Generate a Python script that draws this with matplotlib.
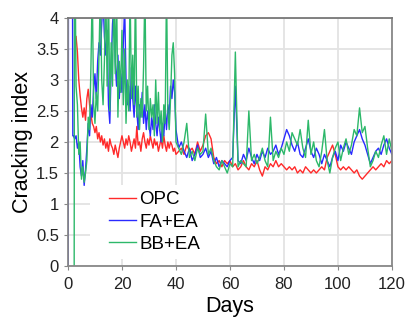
import numpy as np
import matplotlib
matplotlib.use('Agg')
import matplotlib.pyplot as plt
from matplotlib.patches import Rectangle

plt.rcParams['font.family'] = ['Liberation Sans', 'DejaVu Sans']

# dias: passo de meio dia ate o dia 40, depois passo de 1 dia
dias_ini = np.arange(3.0, 40.5, 0.5)
dias_fim = np.arange(41, 121, 1)

# OPC
opc_ini = [3.7, 3.45, 3.0, 2.75, 2.55, 2.4, 2.55, 2.35, 2.7, 2.85,
           2.6, 2.45, 2.3, 2.25, 2.15, 2.25, 2.05, 2.15, 2.0, 2.1,
           1.95, 2.05, 1.9, 2.0, 1.85, 2.05, 1.95, 1.9, 1.8, 1.95,
           1.85, 1.75, 1.9, 2.0, 2.1, 2.0, 1.9, 2.05, 1.95, 2.1,
           2.0, 1.85, 1.95, 2.05, 1.9, 2.25, 1.95, 2.0, 1.85, 2.05,
           2.15, 2.0, 1.9, 2.05, 1.95, 2.1, 2.0, 1.9, 2.05, 1.95,
           2.0, 1.85, 1.95, 2.05, 1.9, 2.1, 1.95, 1.85, 2.0, 1.9,
           2.0, 1.95, 1.85, 1.9, 1.8]
opc_fim = [1.85, 1.9, 1.8, 1.95, 1.85, 1.9, 1.8, 2.0, 1.85, 1.95,
           2.1, 2.15, 2.05, 1.75, 1.65, 1.7, 1.6, 1.7, 1.65, 1.7,
           1.6, 1.65, 1.55, 1.6, 1.7, 1.6, 1.55, 1.65, 1.6, 1.7,
           1.55, 1.45, 1.6, 1.55, 1.65, 1.6, 1.7, 1.6, 1.65, 1.6,
           1.55, 1.6, 1.55, 1.6, 1.5, 1.55, 1.5, 1.6, 1.55, 1.5,
           1.55, 1.5, 1.55, 1.6, 1.55, 1.75, 1.85, 1.95, 1.8, 1.6,
           1.55, 1.6, 1.55, 1.6, 1.55, 1.5, 1.55, 1.45, 1.4, 1.45,
           1.5, 1.55, 1.6, 1.55, 1.6, 1.65, 1.6, 1.7, 1.65, 1.7]

# FA+EA (inicio sobe acima de 4 e volta)
fa_pre_x = [0.1, 0.2, 1.6, 1.8, 2.0, 2.5]
fa_pre_y = [0.0, 6.0, 6.0, 2.1, 2.1, 2.05]
fa_ini = [2.1, 1.9, 2.0, 1.6, 1.45, 1.7, 1.3, 1.55, 1.9, 2.3,
          2.1, 2.6, 2.4, 2.85, 3.1, 2.7, 3.3, 3.6, 3.4, 3.9,
          4.3, 3.7, 3.4, 3.8, 2.6, 2.3, 3.2, 3.9, 4.2, 3.3,
          2.9, 3.4, 2.7, 3.1, 2.8, 3.6, 4.2, 3.0, 2.6, 2.9,
          2.5, 3.2, 2.7, 2.4, 2.9, 2.5, 2.2, 2.6, 2.4, 2.8,
          2.3, 2.6, 2.2, 2.5, 2.3, 2.1, 2.4, 2.2, 2.6, 2.3,
          2.1, 2.4, 2.2, 2.0, 2.3, 2.1, 2.5, 2.2, 2.6, 2.4,
          2.9, 2.7, 3.0, 2.8, 2.2]
fa_fim = [1.9, 2.0, 1.85, 1.75, 1.9, 1.7, 1.8, 1.95, 1.75, 1.8,
          1.9, 1.75, 1.85, 1.65, 1.75, 1.6, 1.7, 1.65, 1.6, 1.7,
          1.75, 2.9, 1.7, 1.65, 1.8, 1.7, 1.9, 1.75, 1.65, 1.8,
          1.7, 1.85, 1.75, 1.9, 1.8, 1.85, 1.95, 1.8, 1.9, 2.05,
          2.2, 2.1, 1.95, 1.85, 2.0, 1.8, 1.75, 1.9, 2.05, 1.85,
          1.75, 1.9, 1.8, 1.65, 1.8, 1.7, 1.6, 1.75, 1.85, 1.7,
          1.95, 1.85, 2.0, 1.9, 1.8, 2.0, 2.1, 2.2, 2.05, 1.95,
          1.8, 1.65, 1.75, 1.85, 1.9, 1.8, 1.95, 2.05, 1.9, 1.8]

# BB+EA
bb_pre_x = [2.3, 2.4, 2.7]
bb_pre_y = [0.0, 4.5, 4.5]
bb_ini = [2.9, 2.6, 1.8, 2.0, 1.4, 1.6, 1.35, 1.5, 1.7, 2.4,
          2.2, 3.2, 4.5, 2.6, 2.3, 2.8, 2.5, 3.4, 4.5, 3.0,
          2.6, 3.3, 4.5, 2.9, 4.5, 2.5, 3.6, 2.9, 4.5, 3.1,
          4.5, 2.4, 3.3, 2.8, 3.8, 2.6, 3.5, 2.3, 3.0, 2.5,
          4.5, 2.7, 3.4, 2.6, 4.5, 2.4, 2.9, 2.2, 2.7, 2.4,
          3.2, 4.5, 2.5, 2.9, 2.2, 2.7, 2.4, 2.6, 2.1, 3.0,
          2.3, 2.8, 2.2, 2.5, 2.0, 2.6, 2.3, 4.5, 2.5, 2.2,
          2.7, 3.4, 3.6, 3.1, 2.0]
bb_fim = [1.9, 1.8, 2.0, 2.3, 1.75, 1.85, 1.7, 1.9, 1.8, 1.85,
          2.45, 1.8, 1.9, 1.7, 1.6, 1.55, 1.7, 1.6, 1.5, 1.65,
          1.6, 3.45, 1.6, 1.7, 1.65, 1.6, 2.5, 1.7, 1.8, 1.65,
          1.75, 1.9, 1.7, 1.6, 2.4, 1.7, 1.85, 1.75, 1.9, 1.8,
          2.0, 1.85, 2.15, 2.05, 1.95, 2.2, 1.9, 1.75, 2.35, 1.8,
          2.0, 1.7, 1.6, 1.85, 2.2, 1.7, 1.5, 1.75, 1.9, 2.0,
          1.7, 1.9, 2.05, 1.8, 1.95, 2.2, 2.1, 2.55, 2.15, 2.25,
          1.9, 1.6, 1.7, 1.85, 1.75, 1.95, 2.1, 1.8, 2.05, 1.85]

x_opc = np.concatenate([dias_ini, dias_fim])
y_opc = np.array(opc_ini + opc_fim)
x_fa = np.concatenate([fa_pre_x, dias_ini, dias_fim])
y_fa = np.array(fa_pre_y + fa_ini + fa_fim)
x_bb = np.concatenate([bb_pre_x, dias_ini, dias_fim])
y_bb = np.array(bb_pre_y + bb_ini + bb_fim)

fig = plt.figure(figsize=(4.07, 3.26), dpi=100)
ax = fig.add_axes([0.167, 0.184, 0.796, 0.761])

ax.plot(x_opc, y_opc, color='#ff2a2a', lw=1.0, label='OPC')
ax.plot(x_fa, y_fa, color='#2a2aff', lw=1.0, label='FA+EA')
ax.plot(x_bb, y_bb, color='#2db86a', lw=1.0, label='BB+EA')

ax.set_xlim(0, 120)
ax.set_ylim(0, 4)
ax.set_xticks(np.arange(0, 121, 20))
ax.set_yticks(np.arange(0, 4.01, 0.5))
ax.set_yticklabels(['0', '0.5', '1', '1.5', '2', '2.5', '3', '3.5', '4'])
ax.tick_params(labelsize=12, direction='out', length=3, color='#888888',
               colors='#222222')
ax.tick_params(axis='x', pad=5)
ax.grid(True, color='#e3e3e3', lw=1.3)
ax.set_axisbelow(True)
for s in ax.spines.values():
    s.set_color('#888888')
    s.set_linewidth(1.3)
ax.spines['top'].set_color('#777777')

ax.set_xlabel('Days', fontsize=15.5, labelpad=3)
ax.set_ylabel('Cracking index', fontsize=15.5, labelpad=2)

# fundo branco da legenda (cobre a grade)
ax.add_patch(Rectangle((0.068, 0.028), 0.40, 0.30, transform=ax.transAxes,
                       facecolor='white', edgecolor='none', zorder=1.5))
leg = ax.legend(loc='upper left', bbox_to_anchor=(0.085, 0.355), fontsize=13.5,
                frameon=False, handlelength=1.45, handletextpad=0.2,
                labelspacing=0.28, borderpad=0.2)

fig.savefig('out.png', dpi=100)
